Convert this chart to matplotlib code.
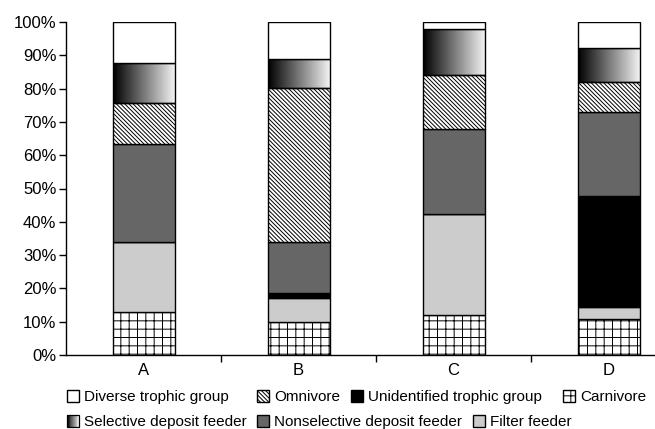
import numpy as np
import matplotlib
matplotlib.use('Agg')
import matplotlib.pyplot as plt
from matplotlib.patches import Rectangle
from matplotlib.legend_handler import HandlerBase

plt.rcParams['font.family'] = ['Liberation Sans', 'DejaVu Sans']
plt.rcParams['hatch.linewidth'] = 0.7

# ---- data (percent of each site) ----
categories = ['A', 'B', 'C', 'D']
carnivore = [13.0, 10.0, 11.9, 10.7]
filter_feeder = [21.0, 7.0, 30.5, 3.8]
unidentified = [0.0, 1.7, 0.0, 33.2]
nonselective = [29.5, 15.3, 25.4, 25.3]
omnivore = [12.3, 46.3, 16.3, 9.0]
selective = [11.8, 8.6, 13.9, 10.3]
diverse = [12.4, 11.1, 2.0, 7.7]
yticks = [0, 10, 20, 30, 40, 50, 60, 70, 80, 90, 100]

series = [
    ('Carnivore', carnivore, dict(facecolor='white', hatch='++')),
    ('Filter feeder', filter_feeder, dict(facecolor='#cccccc')),
    ('Unidentified trophic group', unidentified, dict(facecolor='black')),
    ('Nonselective deposit feeder', nonselective, dict(facecolor='#666666')),
    ('Omnivore', omnivore, dict(facecolor='white', hatch='\\' * 8)),
    ('Selective deposit feeder', selective, dict(facecolor='none')),
    ('Diverse trophic group', diverse, dict(facecolor='white')),
]

W, H = 655, 429
fig = plt.figure(figsize=(W / 100, H / 100), dpi=100)
ax = fig.add_axes([66 / W, 74 / H, 620 / W, 333 / H])

x = np.arange(len(categories))
bottom = np.zeros(len(categories))
handles = {}
grad = np.linspace(0.0, 0.95, 256).reshape(1, -1)
for name, vals, style in series:
    bc = ax.bar(x, vals, width=0.4, bottom=bottom, edgecolor='black',
                linewidth=1.0, zorder=3, label=name, **style)
    handles[name] = bc.patches[0]
    if name == 'Selective deposit feeder':
        for p in bc.patches:
            x0, y0 = p.get_x(), p.get_y()
            ax.imshow(grad, cmap='gray', vmin=0, vmax=1, aspect='auto',
                      interpolation='bilinear', zorder=2,
                      extent=(x0, x0 + p.get_width(), y0, y0 + p.get_height()))
    bottom += np.array(vals)

ax.set_xlim(-0.5, len(categories) - 0.5)
ax.set_ylim(0, 100)

for s in ['top', 'right']:
    ax.spines[s].set_visible(False)
ax.spines['left'].set_linewidth(1.0)
ax.spines['bottom'].set_linewidth(1.0)

ax.set_yticks(yticks)
ax.set_yticklabels([f'{v}%' for v in yticks])
ax.tick_params(axis='y', direction='out', length=5, width=1, labelsize=12, pad=2)
ax.set_xticks(x)
ax.set_xticklabels(categories)
ax.tick_params(axis='x', which='major', length=0, labelsize=12, pad=6)
ax.set_xticks(np.arange(len(categories) - 1) + 0.5, minor=True)
ax.tick_params(axis='x', which='minor', direction='out', length=5, width=1)


class GradientHandler(HandlerBase):
    def create_artists(self, legend, orig_handle, xdescent, ydescent,
                       width, height, fontsize, trans):
        n = 14
        arts = []
        for i in range(n):
            c = str(0.95 * i / (n - 1))
            arts.append(Rectangle((-xdescent + i * width / n, -ydescent),
                                  width / n + 0.01, height, facecolor=c,
                                  edgecolor='none', transform=trans))
        arts.append(Rectangle((-xdescent, -ydescent), width, height,
                              facecolor='none', edgecolor='black', lw=0.9,
                              transform=trans))
        return arts


legend_layout = [
    ('Diverse trophic group', 67, 397),
    ('Omnivore', 257, 397),
    ('Unidentified trophic group', 351, 397),
    ('Carnivore', 563, 397),
    ('Selective deposit feeder', 67, 422),
    ('Nonselective deposit feeder', 257, 422),
    ('Filter feeder', 473, 422),
]
for name, px, py in legend_layout:
    fig.legend([handles[name]], [name], loc='center left',
               bbox_to_anchor=(px / W, 1 - py / H),
               bbox_transform=fig.transFigure, frameon=False,
               borderpad=0, borderaxespad=0, handlelength=0.8,
               handleheight=0.8, handletextpad=0.3, fontsize=11,
               handler_map={handles['Selective deposit feeder']: GradientHandler()})

fig.savefig('out.png', dpi=100)
